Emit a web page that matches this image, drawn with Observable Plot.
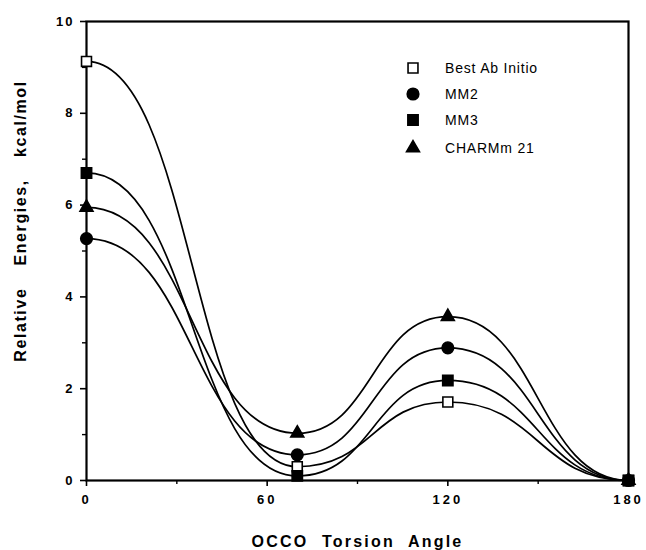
<!DOCTYPE html>
<html><head><meta charset="utf-8">
<script src="https://cdn.jsdelivr.net/npm/d3@7"></script>
<script src="https://cdn.jsdelivr.net/npm/@observablehq/plot@0.6"></script>
<style>
body{margin:0;background:#fff;}
#wrap{position:relative;width:646px;height:550px;font-family:"Liberation Sans",Arial,sans-serif;}
.item{position:absolute;display:flex;align-items:center;height:20px;}
.item span{font-size:14px;letter-spacing:0.8px;margin-left:22px;color:#000;}
</style></head><body><div id="wrap"></div>
<script>
// ---- data ----
const angles = [0, 70, 120, 180];
const seriesNames = ["Best Ab Initio", "MM2", "MM3", "CHARMm 21"];
const abInitio = [9.13, 0.30, 1.71, 0];
const mm2 = [5.27, 0.56, 2.89, 0];
const mm3 = [6.70, 0.10, 2.18, 0];
const charmm = [5.95, 1.03, 3.57, 0];
const xTicks = [0, 60, 120, 180];
const xMinorTicks = [30, 90, 150];
const yTicks = [0, 2, 4, 6, 8, 10];
const yMinorTicks = [1, 3, 5, 7, 9];
const xTitle = ["OCCO Torsion Angle"];
const yTitle = ["Relative Energies, kcal/mol"];

const seriesValues = [abInitio, mm2, mm3, charmm];
const markerStyle = [
  {symbol: "square", fill: "white", r: 5.6},
  {symbol: "circle", fill: "black", r: 5.8},
  {symbol: "square", fill: "black", r: 5.8},
  {symbol: "triangle", fill: "black", r: 4.8}
];

const rows = [];
seriesNames.forEach((s, k) => angles.forEach((a, i) => rows.push({series: s, angle: a, energy: seriesValues[k][i]})));

const dots = seriesNames.map((s, k) => Plot.dot(rows.filter(d => d.series === s), {
  x: "angle", y: "energy", symbol: markerStyle[k].symbol, r: markerStyle[k].r,
  fill: markerStyle[k].fill, stroke: "black", strokeWidth: 1.6
}));

const plot = Plot.plot({
  width: 646, height: 550,
  marginLeft: 86, marginRight: 18, marginTop: 21, marginBottom: 70,
  style: {fontFamily: "'Liberation Sans', Arial, sans-serif", background: "white", color: "black"},
  x: {domain: [0, 180]},
  y: {domain: [0, 10]},
  marks: [
    Plot.axisX({ticks: xTicks, tickSize: 6, tickPadding: 8, fontSize: 13, fontWeight: "bold", label: null, strokeWidth: 1.6}),
    Plot.axisX({ticks: xMinorTicks, tickSize: 4, text: null, label: null, strokeWidth: 1.4}),
    Plot.axisY({ticks: yTicks, tickSize: 6, tickPadding: 6, fontSize: 13, fontWeight: "bold", label: null, strokeWidth: 1.6}),
    Plot.axisY({ticks: yMinorTicks, tickSize: 4, text: null, label: null, strokeWidth: 1.4}),
    Plot.frame({stroke: "black", strokeWidth: 2.2}),
    Plot.line(rows, {x: "angle", y: "energy", z: "series", curve: "bump-x", stroke: "black", strokeWidth: 1.7}),
    ...dots,
    Plot.text(xTitle, {text: d => d, frameAnchor: "bottom", lineAnchor: "middle", textAnchor: "middle", dy: 61,
      fontSize: 16, fontWeight: "bold"}),
    Plot.text(yTitle, {text: d => d, frameAnchor: "left", lineAnchor: "middle", textAnchor: "middle", dx: -66, dy: -30,
      rotate: -90, fontSize: 16, fontWeight: "bold"})
  ]
});

const wrap = document.getElementById("wrap");
wrap.appendChild(plot);

const svg = d3.select(plot);
function spaceText(sel, ls, ws) {
  sel.each(function() {
    this.style.letterSpacing = ls;
    if (ws) this.style.wordSpacing = ws;
  });
}
const textGroups = svg.selectAll('g[aria-label="text"]').nodes();
spaceText(d3.select(textGroups[0]).selectAll("text"), "2.2px", "7px");
spaceText(d3.select(textGroups[1]).selectAll("text"), "1.6px", "16px");
spaceText(svg.selectAll('[aria-label="x-axis tick label"] text'), "3px");
spaceText(svg.selectAll('[aria-label="y-axis tick label"] text'), "2px");

// ---- legend (inside plot, top right) ----
const legendRows = [68, 94, 120, 148];
const symMap = {square: d3.symbolSquare, circle: d3.symbolCircle, triangle: d3.symbolTriangle};
seriesNames.forEach((s, k) => {
  const item = document.createElement("div");
  item.className = "item";
  item.style.left = "403px";
  item.style.top = (legendRows[k] - 10) + "px";
  const m = markerStyle[k];
  const sv = d3.create("svg").attr("width", 20).attr("height", 20);
  sv.append("path")
    .attr("transform", "translate(10,10)")
    .attr("d", d3.symbol(symMap[m.symbol], Math.PI * m.r * m.r)())
    .attr("fill", m.fill).attr("stroke", "black").attr("stroke-width", 1.6);
  item.appendChild(sv.node());
  const t = document.createElement("span");
  t.textContent = s;
  item.appendChild(t);
  wrap.appendChild(item);
});
</script></body></html>
